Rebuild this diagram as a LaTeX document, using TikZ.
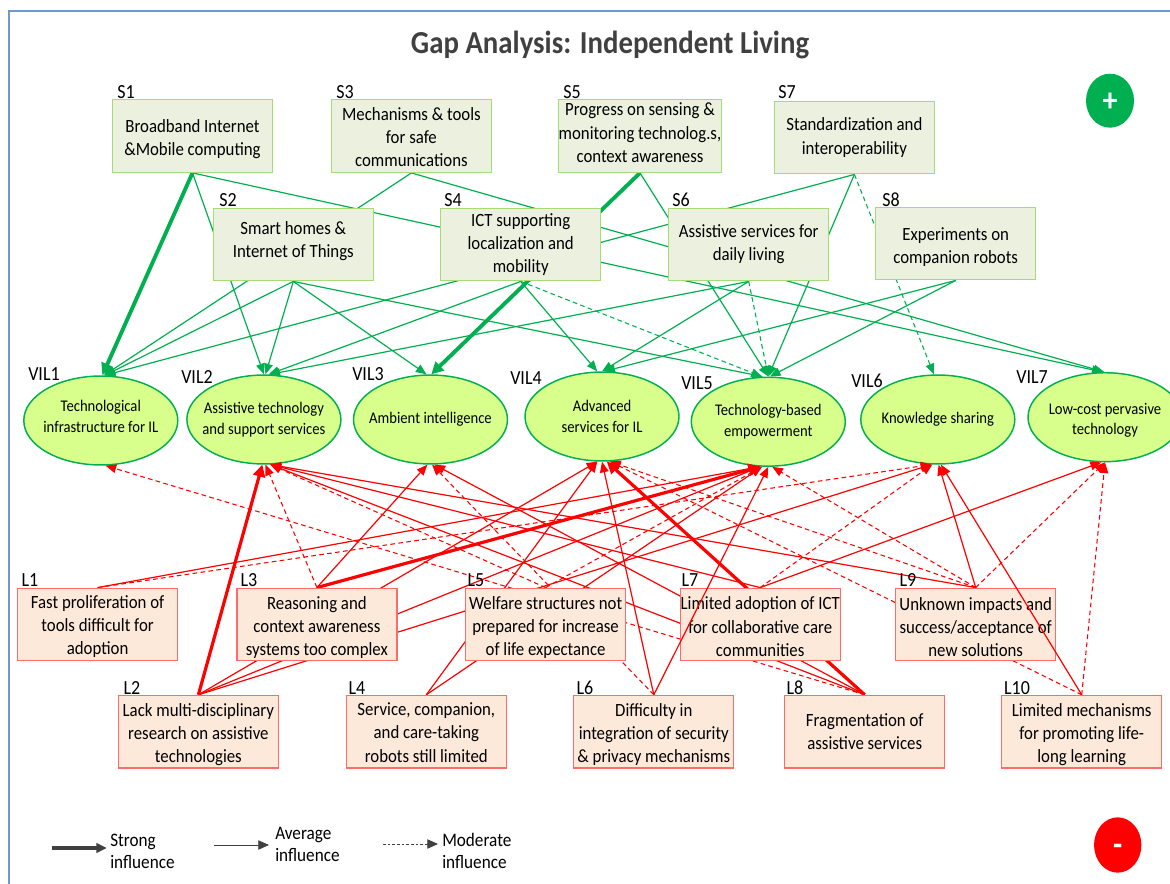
\documentclass[tikz,border=0pt]{standalone}
\usepackage{fontspec}
\setmainfont[FakeStretch=0.9]{Carlito}
\usetikzlibrary{arrows.meta,shapes.geometric}
\pgfdeclarelayer{ell}
\pgfdeclarelayer{edge}
\pgfsetlayers{ell,edge,main}
\definecolor{gline}{HTML}{00B050}
\definecolor{rline}{HTML}{FF0000}
\definecolor{gfill}{HTML}{EBF1DE}
\definecolor{gbord}{HTML}{A5DC78}
\definecolor{rfill}{HTML}{FDE9D9}
\definecolor{rbord}{HTML}{FF6A6A}
\definecolor{efill}{HTML}{D8FF8C}
\definecolor{frame}{HTML}{6F97D0}
\definecolor{dark}{HTML}{404040}
\tikzset{
  x=0.75pt,y=-0.75pt,
  boxtext/.style={font=\fontsize{14}{17.4}\selectfont,align=center,inner sep=0pt,text=black},
  gbox/.style={boxtext,draw=gbord,fill=gfill,line width=0.9pt,minimum width=120pt,minimum height=54.5pt},
  rbox/.style={boxtext,draw=rbord,fill=rfill,line width=0.9pt,minimum width=120pt,minimum height=54.5pt},
  vil/.style={ellipse,draw=gline,fill=efill,line width=1.1pt,minimum width=115.5pt,minimum height=66.7pt,inner xsep=-15pt,inner ysep=-8pt,align=center,font=\fontsize{12.2}{15.6}\selectfont},
  tag/.style={font=\fontsize{15}{17}\selectfont,inner sep=0pt,text=black},
  tip/.style={-{Triangle[length=8pt,width=6.5pt]}},
  gs/.style={draw=gline,line width=2.9pt,-{Triangle[length=9pt,width=9pt]}},
  ga/.style={draw=gline,line width=0.9pt,tip},
  gd/.style={draw=gline,line width=0.8pt,dash pattern=on 3.5pt off 2.5pt,tip},
  rs/.style={draw=rline,line width=2.4pt,-{Triangle[length=9pt,width=9pt]}},
  ra/.style={draw=rline,line width=0.9pt,tip},
  rd/.style={draw=rline,line width=0.8pt,dash pattern=on 3.5pt off 2.5pt,tip},
  legs/.style={draw=dark,line width=2.4pt,-{Triangle[length=8pt,width=7pt]}},
  lega/.style={draw=dark,line width=0.6pt,-{Triangle[length=8pt,width=7pt]}},
  legd/.style={draw=dark,line width=0.6pt,dash pattern=on 2pt off 1.5pt,-{Triangle[length=8pt,width=7pt]}},
  legtext/.style={font=\fontsize{14.3}{16.5}\selectfont,align=left,inner sep=0pt,anchor=west,text=black},
  sign/.style={ellipse,inner sep=0pt,text=white,font=\bfseries\fontsize{25}{25}\selectfont},
}
\begin{document}
\begin{tikzpicture}
\useasboundingbox (0,0) rectangle (1170,884);
\draw[frame,line width=1.4pt] (9,884) -- (9,11) -- (1170,11);
\node[font=\bfseries\fontsize{24}{27}\selectfont,text=dark,inner sep=0pt] (title) at (610,45) {Gap Analysis: Independent Living};

% Strengths
\node[gbox] (S1) at (192.5,136) {\rule{0pt}{14pt}Broadband Internet\\\&Mobile computing};
\node[gbox] (S3) at (411.4,136) {\rule{0pt}{11pt}Mechanisms \& tools\\for safe\\communications};
\node[gbox] (S5) at (640,136) {Progress on sensing \&\\monitoring technolog.s,\\context awareness\rule[-5pt]{0pt}{5pt}};
\node[gbox] (S7) at (854.4,137.5) {Standardization and\\interoperability};
\node[gbox] (S2) at (293.3,244.5) {Smart homes \&\\Internet of Things\rule[-7pt]{0pt}{7pt}};
\node[gbox] (S4) at (520.7,244.5) {ICT supporting\\localization and\\mobility};
\node[gbox] (S6) at (748.7,244.5) {Assistive services for\\daily living};
\node[gbox] (S8) at (955.7,243.5) {\rule{0pt}{15pt}Experiments on\\companion robots};

\foreach \n/\x/\y/\t in {a/126/92/S1,b/345/92/S3,c/572/92/S5,d/787/92/S7,e/228/200/S2,f/453/200/S4,g/681/200/S6,h/891/200/S8,
  i/44/374/VIL1,j/197/377/VIL2,k/368/374/VIL3,l/526/378/VIL4,m/697/383/VIL5,n/867/381/VIL6,o/1032/377/VIL7,
  p/30/580/L1,q/249/580/L3,r/476/580/L5,s/690/580/L7,t/908/580/L9,u/132/688/L2,v/357/688/L4,w/585/688/L6,y/795/688/L8,z/1017/688/L10}
  \node[tag] (tag\n) at (\x,\y) {\t};

% Limitations
\node[rbox] (L1) at (97.6,624.5) {\rule{0pt}{13pt}Fast proliferation of\\tools difficult for\\adoption};
\node[rbox] (L3) at (316.9,624.5) {\rule{0pt}{14pt}Reasoning and\\context awareness\\systems too complex};
\node[rbox] (L5) at (545.6,624.5) {\rule{0pt}{14pt}Welfare structures not\\prepared for increase\\of life expectance};
\node[rbox] (L7) at (760.2,624.5) {\rule{0pt}{13pt}Limited adoption of ICT\\for collaborative care\\communities};
\node[rbox] (L9) at (975.7,624.5) {\rule{0pt}{14pt}Unknown impacts and\\success/acceptance of\\new solutions};
\node[rbox] (L2) at (198.4,731.7) {\rule{0pt}{14pt}Lack multi-disciplinary\\research on assistive\\technologies};
\node[rbox] (L4) at (426.3,731.7) {\rule{0pt}{11pt}Service, companion,\\and care-taking\\robots still limited};
\node[rbox] (L6) at (653.8,731.7) {\rule{0pt}{14pt}Difficulty in\\integration of security\\\& privacy mechanisms};
\node[rbox] (L8) at (864.7,731.7) {Fragmentation of\\assistive services};
\node[rbox] (L10) at (1081.7,731.7) {\rule{0pt}{14pt}Limited mechanisms\\for promoting life-\\long learning};

% Visions
\begin{pgfonlayer}{ell}
\node[vil] (V1) at (100.8,420.5) {Technological\\infrastructure for IL\rule[-6pt]{0pt}{6pt}};
\node[vil] (V2) at (263.9,419.5) {Assistive technology\\and support services};
\node[vil] (V3) at (430.5,419.5) {Ambient intelligence};
\node[vil] (V4) at (602,416.5) {Advanced\\services for IL};
\node[vil] (V5) at (768.3,421.7) {Technology-based\\empowerment};
\node[vil] (V6) at (937.8,419.5) {Knowledge sharing};
\node[vil] (V7) at (1105,417.2) {\rule{0pt}{13pt}Low-cost pervasive\\technology};
\end{pgfonlayer}

\begin{pgfonlayer}{edge}
% green, from box bottoms to ellipse tops
\foreach \a/\b in {S1/V1.88,S5/V3.89}
  \draw[gs] (\a.south) -- (\b);
\foreach \a/\b in {S1/V2.90,S1/V7.93,S3/V1.86,S3/V7.91,S5/V5.90,S7/V1.85,S7/V5.90,
  S2/V1.85,S2/V2.88,S2/V3.95,S2/V5.97,S4/V2.84,S4/V4.96,S6/V2.83,S6/V4.90,S8/V4.87,S8/V5.88}
  \draw[ga] (\a.south) -- (\b);
\foreach \a/\b in {S7/V6.95,S4/V5.98,S6/V5.90}
  \draw[gd] (\a.south) -- (\b);
% red, upward from the limitation boxes
\foreach \a/\b in {L2.north/V2.-92,L3.north/V5.-100,L8.north/V4.-84}
  \draw[rs] (\a) -- (\b);
\foreach \a/\b in {L1/V5.-100,L2/V4.-96,L2/V5.-100,L2/V6.-98,L3/V3.-94,L4/V4.-96,L4/V5.-98,
  L6/V4.-90,L7/V2.-82,L7/V7.-95,L8/V2.-82,L8/V3.-85,L9/V2.-82,L9/V6.-89}
  \draw[ra] (\a.north) -- (\b);
\foreach \a/\b in {L1/V6.-98,L3/V2.-88,L5/V2.-82,L5/V5.-98,L6/V3.-88,L7/V6.-97,L8/V1.-84,
  L9/V4.-80,L9/V5.-85,L9/V7.-90,L10/V4.-80,L10/V7.-90}
  \draw[rd] (\a.north) -- (\b);
\end{pgfonlayer}
% these two run over the boxes they cross
\draw[ra] (L6.north) -- (V5.-90);
\draw[ra] (L10.north) -- (V6.-86);

% Signs
\node[sign,fill=gline,minimum width=36pt,minimum height=40.5pt] (plus) at (1110,100.7) {\smash{\raisebox{-8pt}{+}}};
\node[sign,fill=rline,minimum width=35.5pt,minimum height=41.5pt] (minus) at (1117.7,845) {\smash{\raisebox{-8pt}{-}}};

% Legend
\coordinate (a1) at (52,848); \coordinate (a2) at (107,848);
\coordinate (b1) at (213.5,845); \coordinate (b2) at (269,845);
\coordinate (c1) at (383,844); \coordinate (c2) at (438,844);
\draw[legs] (a1) -- (a2);
\draw[lega] (b1) -- (b2);
\draw[legd] (c1) -- (c2);
\node[legtext] (lt1) at (110,851) {Strong\\influence};
\node[legtext] (lt2) at (275,844) {Average\\influence};
\node[legtext] (lt3) at (442,851) {Moderate\\influence};
\end{tikzpicture}
\end{document}
